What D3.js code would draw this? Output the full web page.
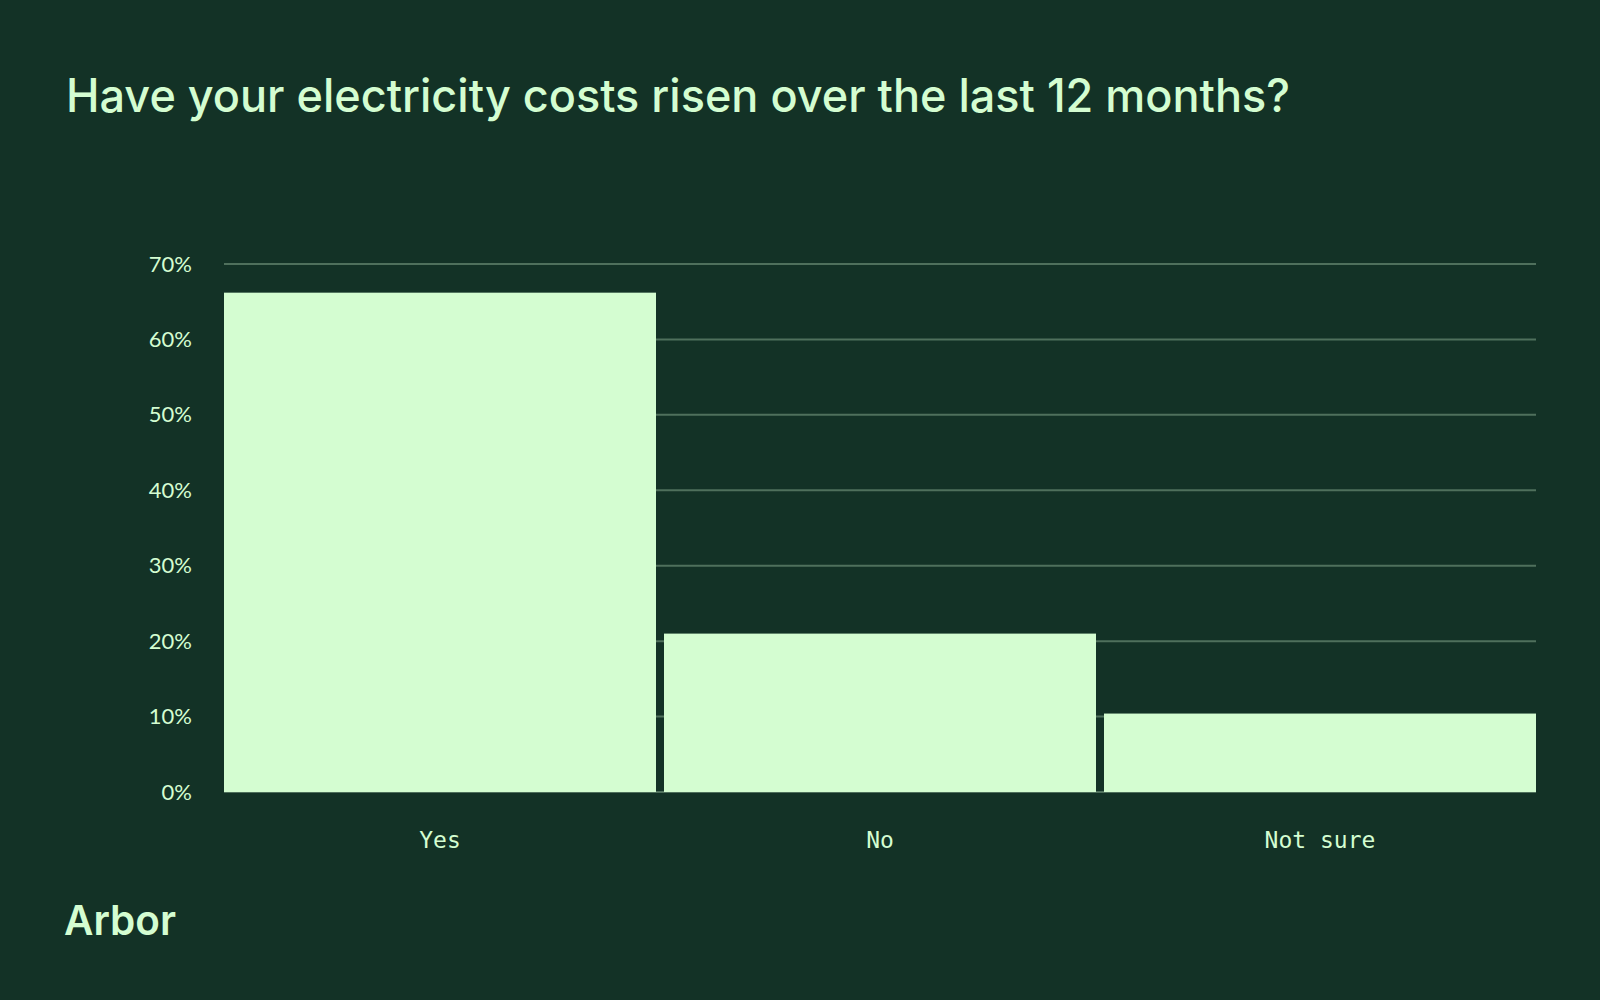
<!DOCTYPE html>
<html>
<head>
<meta charset="utf-8">
<script src="https://cdn.jsdelivr.net/npm/d3@7"></script>
<style>
  html, body { margin: 0; padding: 0; background: #133226; }
  svg { display: block; }
</style>
</head>
<body>
<svg id="chart" width="1600" height="1000"></svg>
<script>
const categories = ["Yes", "No", "Not sure"];
const values = [66.2, 21.0, 10.4];
const yTicks = [0, 10, 20, 30, 40, 50, 60, 70];
const titleText = "Have your electricity costs risen over the last 12 months?";
const brandText = "Arbor";

const bg = "#133226";
const fg = "#d4fdd1";
const gridColor = "#4f705c";

const svg = d3.select("#chart");
svg.append("rect").attr("width", 1600).attr("height", 1000).attr("fill", bg);

const x = d3.scaleBand().domain(categories).range([224, 1536]).paddingInner(0.01818).paddingOuter(0);
const y = d3.scaleLinear().domain([0, 70]).range([792, 264]);

// gridlines
svg.append("g").selectAll("line").data(yTicks).join("line")
  .attr("x1", 224).attr("x2", 1536)
  .attr("y1", d => y(d)).attr("y2", d => y(d))
  .attr("stroke", gridColor).attr("stroke-width", 2);

// bars
svg.append("g").selectAll("rect").data(categories).join("rect")
  .attr("x", d => x(d))
  .attr("width", x.bandwidth())
  .attr("y", (d, i) => y(values[i]))
  .attr("height", (d, i) => y(0) - y(values[i]))
  .attr("fill", fg);

// y axis labels
const yAxis = d3.axisLeft(y).tickValues(yTicks).tickFormat(d => d + "%").tickSize(0).tickPadding(0);
const yg = svg.append("g").attr("transform", "translate(192,0)").call(yAxis);
yg.select(".domain").remove();
yg.selectAll("text")
  .attr("fill", fg)
  .style("font-family", "Lato, 'Noto Sans', sans-serif")
  .style("font-size", "22px");

// x axis labels
const xAxis = d3.axisBottom(x).tickSize(0).tickPadding(0);
const xg = svg.append("g").attr("transform", "translate(0,832)").call(xAxis);
xg.select(".domain").remove();
xg.selectAll("text")
  .attr("fill", fg)
  .attr("dy", "0.71em")
  .style("font-family", "'DejaVu Sans Mono', 'Liberation Mono', monospace")
  .style("font-size", "23px");

// title
svg.append("text")
  .attr("x", 66).attr("y", 112)
  .attr("fill", fg)
  .style("font-family", "Inter, 'Noto Sans', sans-serif")
  .style("font-size", "46px")
  .style("font-weight", 500)
  .attr("textLength", 1224)
  .attr("lengthAdjust", "spacingAndGlyphs")
  .text(titleText);

// brand
svg.append("text")
  .attr("x", 64).attr("y", 935)
  .attr("fill", fg)
  .style("font-family", "Inter, 'Noto Sans', sans-serif")
  .style("font-size", "41px")
  .style("font-weight", 600)
  .attr("textLength", 112)
  .attr("lengthAdjust", "spacingAndGlyphs")
  .text(brandText);
</script>
</body>
</html>
